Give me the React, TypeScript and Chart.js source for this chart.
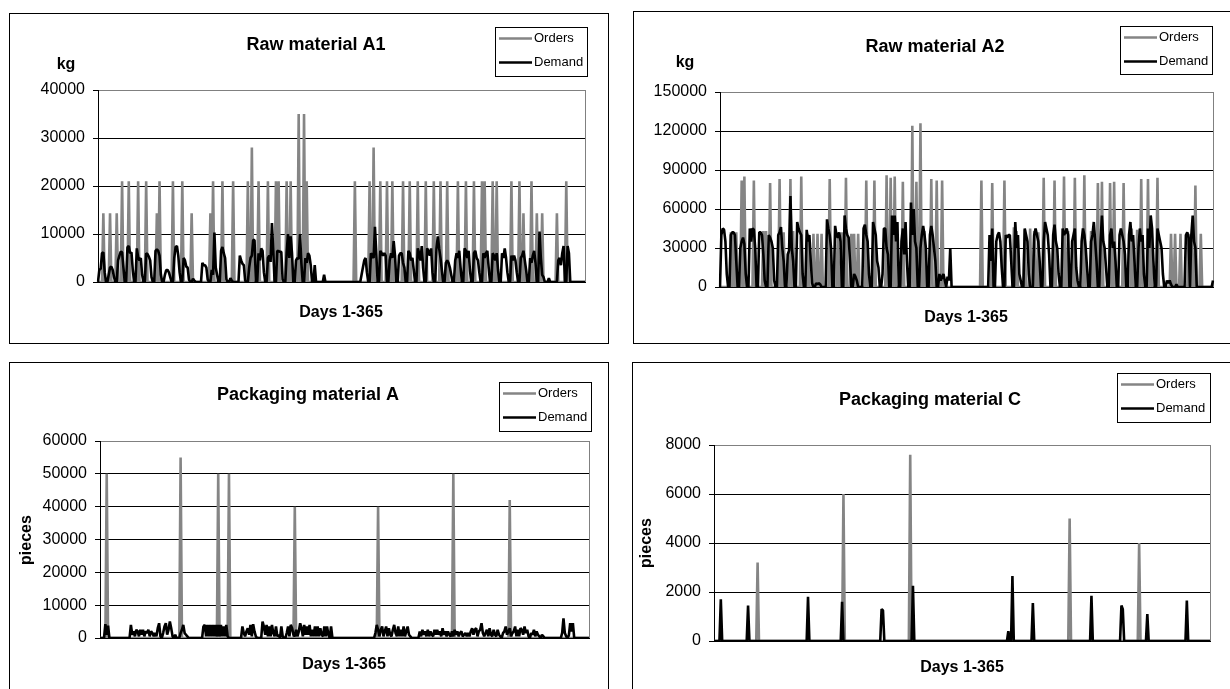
import React, { useEffect, useRef } from "react";
import { Chart, registerables } from "chart.js";

Chart.register(...registerables);

const FONT = '"Liberation Sans", Arial, Helvetica, sans-serif';
const ORDERS_COLOR = "#858585";
const DEMAND_COLOR = "#000000";
const X_AXIS_TITLE = "Days 1-365";
const LEGEND_LABELS = ["Orders", "Demand"];

const DAY_COUNT = 365;
const dayLabels: string[] = Array.from({ length: DAY_COUNT }, (_, i) => String(i + 1));

// ---------- Raw material A1 (kg) ----------
const ticksA1 = [0, 10000, 20000, 30000, 40000];
const ordersA1: [number, number][] = [
  [5, 14300], [10, 14300], [15, 14300], [19, 21000], [24, 21000], [31, 21000], [37, 21000],
  [45, 14300], [47, 21000], [57, 21000], [64, 21000], [71, 14300], [85, 14300], [87, 21000],
  [94, 21000], [102, 21000], [113, 21000], [116, 28000], [121, 21000], [128, 21000], [134, 21000],
  [136, 21000], [142, 21000], [145, 21000], [151, 35000], [155, 35000], [157, 21000], [193, 21000],
  [204, 21000], [207, 28000], [212, 21000], [217, 21000], [221, 21000], [229, 21000], [234, 21000],
  [240, 21000], [246, 21000], [252, 21000], [257, 21000], [262, 21000], [270, 21000], [276, 21000],
  [282, 21000], [288, 21000], [290, 21000], [296, 21000], [299, 21000], [310, 21000], [316, 21000],
  [319, 14300], [325, 21000], [329, 14300], [333, 14300], [344, 14300], [351, 21000],
];
const demandA1: number[] = [
  0, 2500, 2800, 6000, 6200, 2000, 0,
  0, 1500, 3000, 3200, 2500, 1000, 0,
  0, 4500, 5500, 6300, 6200, 3000, 0,
  0, 7200, 7500, 6000, 6200, 2500, 0,
  0, 7000, 5200, 4500, 5000, 1500, 0,
  0, 6000, 5800, 5300, 4500, 1000, 0,
  0, 6500, 6800, 6500, 5500, 1500, 0,
  0, 1500, 2500, 2500, 2000, 1000, 0,
  0, 5000, 7300, 7500, 5500, 2000, 0,
  0, 5000, 4500, 3200, 3000, 500, 0,
  0, 700, 300, 0, 0, 0, 0,
  0, 4000, 3500, 3500, 3000, 500, 0,
  0, 2500, 1500, 10300, 3000, 1500, 0,
  0, 6500, 7300, 6000, 5000, 500, 0,
  0, 800, 300, 0, 0, 0, 0,
  0, 5500, 4500, 3800, 3500, 300, 0,
  0, 3000, 5000, 5500, 8800, 8700, 0,
  0, 6000, 4500, 7000, 6500, 2000, 0,
  0, 5000, 5500, 4200, 12300, 6500, 0,
  0, 6500, 6400, 6300, 6300, 500, 0,
  0, 6000, 10000, 5000, 9500, 6000, 0,
  0, 4500, 5000, 4800, 10000, 4000, 0,
  0, 5000, 4000, 6000, 5500, 3500, 0,
  0, 3500, 0, 0, 0, 0, 0,
  0, 1500, 0, 0, 0, 0, 0,
  0, 0, 0, 0, 0, 0, 0,
  0, 0, 0, 0, 0, 0, 0,
  0, 0, 0, 0, 0, 0, 0,
  0, 1500, 3000, 4500, 5000, 2000, 0,
  0, 6000, 5500, 5000, 11500, 6000, 0,
  0, 6500, 6000, 5500, 6000, 5500, 0,
  0, 4500, 6000, 5000, 8500, 5500, 0,
  0, 5500, 6000, 6000, 4000, 3000, 0,
  0, 6500, 6000, 4500, 5000, 2500, 0,
  0, 7000, 6000, 4500, 7500, 3000, 0,
  0, 7000, 6500, 5500, 7000, 2000, 0,
  0, 7000, 9500, 7000, 5000, 2500, 0,
  0, 4000, 4500, 4000, 3000, 1500, 0,
  0, 4500, 6000, 5000, 6500, 3000, 0,
  0, 7000, 6500, 5000, 6500, 2500, 0,
  0, 6000, 6500, 5000, 4500, 2000, 0,
  0, 6000, 5000, 6000, 6500, 3000, 0,
  0, 6000, 5500, 4500, 6000, 2500, 0,
  0, 6000, 5000, 7000, 5000, 2000, 0,
  0, 5500, 4500, 5500, 4500, 2000, 0,
  0, 5000, 5500, 6500, 4500, 2500, 0,
  0, 5000, 4000, 5500, 6500, 4000, 0,
  0, 10500, 5000, 1500, 1000, 0, 0,
  0, 800, 0, 0, 0, 0, 0,
  0, 4500, 5000, 3500, 6000, 7500, 0,
  0, 7500, 6000, 0, 0, 0, 0,
  0, 0, 0, 0, 0, 0, 0,
  0,
];

// ---------- Raw material A2 (kg) ----------
const ticksA2 = [0, 30000, 60000, 90000, 120000, 150000];
const ordersA2: [number, number][] = [
  [9, 42000], [11, 42000], [13, 42000], [17, 82000], [19, 85000], [26, 82000], [33, 43000],
  [35, 43000], [38, 80000], [45, 83000], [48, 42000], [53, 83000], [55, 43000], [61, 85000],
  [66, 41000], [70, 41000], [73, 41000], [76, 41000], [82, 83000], [88, 42000], [91, 42000],
  [94, 84000], [98, 41000], [100, 41000], [103, 41000], [109, 82000], [115, 82000], [124, 86000],
  [127, 84000], [130, 85000], [136, 81000], [143, 124000], [146, 81000], [149, 126000], [152, 43000],
  [157, 83000], [161, 82000], [165, 82000], [194, 82000], [202, 80000], [211, 82000], [218, 46000],
  [220, 43000], [226, 44000], [230, 45000], [233, 43000], [236, 42000], [240, 84000], [248, 82000],
  [255, 85000], [258, 43000], [263, 84000], [270, 86000], [275, 43000], [277, 42000], [280, 80000],
  [283, 81000], [289, 80000], [292, 81000], [299, 80000], [305, 45000], [309, 44000], [312, 83000],
  [317, 83000], [319, 42000], [324, 84000], [334, 41000], [337, 41000], [341, 41000], [347, 41000],
  [349, 41000], [352, 78000], [356, 41000],
];
const demandA2: number[] = [
  0, 40000, 45000, 44000, 35000, 10000, 0,
  0, 40000, 42000, 42000, 40000, 20000, 0,
  0, 30000, 35000, 38000, 33000, 10000, 0,
  0, 45000, 35000, 45000, 44000, 30000, 0,
  0, 42000, 42000, 40000, 25000, 5000, 0,
  0, 40000, 38000, 35000, 30000, 5000, 0,
  0, 40000, 42000, 46000, 30000, 20000, 0,
  0, 25000, 28000, 70000, 30000, 20000, 0,
  0, 50000, 45000, 42000, 40000, 10000, 0,
  0, 44000, 35000, 40000, 20000, 3000, 0,
  0, 3000, 2000, 3000, 2000, 0, 0,
  0, 0, 52000, 45000, 40000, 30000, 0,
  0, 47000, 40000, 38000, 42000, 35000, 0,
  0, 55000, 45000, 40000, 38000, 20000, 0,
  0, 10000, 8000, 5000, 0, 0, 0,
  0, 45000, 48000, 40000, 35000, 10000, 0,
  0, 50000, 45000, 40000, 20000, 15000, 0,
  0, 10000, 45000, 45000, 30000, 25000, 0,
  0, 55000, 40000, 55000, 35000, 50000, 0,
  0, 35000, 45000, 25000, 50000, 20000, 0,
  0, 65000, 40000, 60000, 35000, 30000, 0,
  0, 30000, 40000, 47000, 40000, 30000, 0,
  0, 40000, 47000, 40000, 30000, 20000, 0,
  0, 10000, 5000, 8000, 10000, 5000, 0,
  8000, 5000, 30000, 0, 0, 0, 0,
  0, 0, 0, 0, 0, 0, 0,
  0, 0, 0, 0, 0, 0, 0,
  0, 0, 0, 0, 0, 0, 0,
  0, 0, 0, 40000, 20000, 45000, 0,
  0, 35000, 40000, 42000, 35000, 15000, 0,
  0, 40000, 38000, 40000, 40000, 20000, 0,
  0, 50000, 30000, 40000, 10000, 5000, 0,
  0, 45000, 40000, 35000, 10000, 0, 0,
  0, 40000, 45000, 40000, 35000, 20000, 0,
  0, 35000, 50000, 45000, 40000, 25000, 0,
  0, 40000, 48000, 35000, 30000, 10000, 0,
  0, 45000, 40000, 42000, 45000, 40000, 0,
  0, 35000, 40000, 45000, 15000, 5000, 0,
  0, 35000, 45000, 40000, 30000, 15000, 0,
  0, 35000, 40000, 50000, 35000, 20000, 0,
  0, 35000, 55000, 35000, 30000, 15000, 0,
  0, 40000, 45000, 30000, 35000, 20000, 0,
  0, 40000, 45000, 40000, 35000, 25000, 0,
  0, 40000, 50000, 35000, 40000, 20000, 0,
  0, 30000, 45000, 35000, 40000, 10000, 0,
  0, 45000, 30000, 55000, 45000, 20000, 0,
  0, 45000, 40000, 35000, 30000, 10000, 0,
  0, 5000, 3000, 5000, 2000, 0, 0,
  0, 2000, 0, 0, 0, 0, 0,
  0, 40000, 42000, 38000, 0, 40000, 55000,
  35000, 30000, 0, 0, 0, 0, 0,
  0, 0, 0, 0, 0, 0, 0,
  5000,
];

// ---------- Packaging material A (pieces) ----------
const ticksPA = [0, 10000, 20000, 30000, 40000, 50000, 60000];
const ordersPA: [number, number][] = [
  [6, 50000], [61, 55000], [89, 50000], [97, 50000], [146, 40000], [208, 40000], [264, 50000], [306, 42000],
];
const demandPA: number[] = [
  0, 0, 0, 0, 4200, 1000, 3800,
  0, 0, 0, 0, 0, 0, 0,
  0, 0, 0, 0, 0, 0, 0,
  0, 0, 4000, 1000, 2000, 500, 2500,
  2000, 500, 2500, 1000, 2500, 500, 2000,
  1500, 2500, 500, 2000, 1500, 500, 1500,
  500, 3000, 4500, 500, 0, 1500, 3500,
  4500, 1000, 2500, 5000, 3000, 500, 0,
  1000, 0, 0, 0, 1500, 2500, 4000,
  1500, 1000, 500, 0, 0, 0, 0,
  0, 0, 0, 0, 0, 0, 0,
  3500, 4000, 500, 4000, 500, 4000, 500,
  4000, 500, 4000, 500, 4000, 500, 4000,
  500, 3500, 500, 4000, 500, 0, 0,
  0, 0, 0, 0, 0, 0, 0,
  0, 3500, 1500, 500, 2000, 3000, 1000,
  4000, 500, 4200, 2000, 500, 0, 0,
  0, 0, 5000, 3500, 1000, 4000, 500,
  3500, 500, 4000, 1500, 500, 3500, 500,
  1000, 0, 3500, 500, 0, 0, 1500,
  3500, 500, 4000, 3000, 1000, 500, 2500,
  500, 2000, 4500, 3000, 500, 4000, 1000,
  3500, 1000, 4000, 500, 2500, 500, 3500,
  500, 3500, 500, 3000, 1000, 500, 3500,
  500, 3500, 1000, 0, 3500, 0, 0,
  0, 0, 0, 0, 0, 0, 0,
  0, 0, 0, 0, 0, 0, 0,
  0, 0, 0, 0, 0, 0, 0,
  0, 0, 0, 0, 0, 0, 0,
  0, 0, 1500, 4000, 2500, 500, 2500,
  3500, 500, 2000, 3500, 500, 3000, 1000,
  500, 2500, 4000, 1500, 500, 3500, 500,
  2500, 500, 3500, 500, 2000, 3500, 1000,
  500, 0, 0, 0, 0, 0, 0,
  2000, 500, 2500, 1000, 2000, 500, 2500,
  500, 2000, 1000, 500, 2500, 1000, 2500,
  1000, 2000, 500, 3000, 1000, 2000, 500,
  2000, 1000, 500, 2000, 500, 2500, 1000,
  2000, 500, 1500, 2000, 500, 1000, 1500,
  500, 1500, 500, 2000, 3000, 1000, 2500,
  3000, 500, 2000, 2500, 4500, 1500, 500,
  1500, 2500, 500, 3000, 1000, 500, 2500,
  1000, 500, 2500, 1000, 500, 0, 1500,
  2000, 3500, 1000, 2000, 3000, 500, 1500,
  2000, 3500, 500, 2500, 500, 3000, 2500,
  1000, 3500, 1500, 2500, 500, 0, 1500,
  1000, 2500, 500, 2000, 1000, 500, 0,
  1000, 500, 0, 0, 0, 0, 0,
  0, 0, 0, 0, 0, 0, 0,
  0, 1500, 6000, 1500, 500, 0, 800,
  4500, 2000, 4500, 0, 0, 0, 0,
  0, 0, 0, 0, 0, 0, 0,
  0,
];

// ---------- Packaging material C (pieces) ----------
const ticksPC = [0, 2000, 4000, 6000, 8000];
const ordersPC: [number, number][] = [
  [33, 3200], [96, 6000], [145, 7600], [262, 5000], [313, 4000],
];
const demandPC: [number, number][] = [
  [6, 1700], [26, 1450], [70, 1800], [95, 1600], [124, 1300], [125, 1250], [147, 2250],
  [217, 400], [220, 2650], [235, 1550], [278, 1850], [300, 1450], [301, 1300], [319, 1100], [348, 1650],
];

function expand(spikes: [number, number][]): number[] {
  const arr = new Array(DAY_COUNT).fill(0);
  spikes.forEach(([d, v]) => {
    arr[d - 1] = v;
  });
  return arr;
}

type Rect = { left: number; top: number; right: number; bottom: number };
type PanelCfg = {
  box: Rect;
  plot: Rect;
  title: string;
  titlePos: [number, number];
  unit: string;
  unitPos: [number, number];
  unitRotated: boolean;
  daysPos: [number, number];
  legend: { x: number; y: number; w: number; h: number };
  ticks: number[];
  orders: number[];
  demand: number[];
};

const panels: PanelCfg[] = [
  {
    box: { left: 9, top: 13, right: 609, bottom: 344 },
    plot: { left: 98, top: 90, right: 585, bottom: 282 },
    title: "Raw material A1",
    titlePos: [316, 45],
    unit: "kg",
    unitPos: [66, 65],
    unitRotated: false,
    daysPos: [341, 313],
    legend: { x: 495, y: 27, w: 92, h: 49 },
    ticks: ticksA1,
    orders: expand(ordersA1),
    demand: demandA1,
  },
  {
    box: { left: 633, top: 11, right: 1245, bottom: 344 },
    plot: { left: 720, top: 92, right: 1213, bottom: 287 },
    title: "Raw material A2",
    titlePos: [935, 47],
    unit: "kg",
    unitPos: [685, 63],
    unitRotated: false,
    daysPos: [966, 318],
    legend: { x: 1120, y: 26, w: 92, h: 48 },
    ticks: ticksA2,
    orders: expand(ordersA2),
    demand: demandA2,
  },
  {
    box: { left: 9, top: 362, right: 609, bottom: 700 },
    plot: { left: 100, top: 441, right: 589, bottom: 638 },
    title: "Packaging material A",
    titlePos: [308, 395],
    unit: "pieces",
    unitPos: [27, 540],
    unitRotated: true,
    daysPos: [344, 665],
    legend: { x: 499, y: 382, w: 92, h: 49 },
    ticks: ticksPA,
    orders: expand(ordersPA),
    demand: demandPA,
  },
  {
    box: { left: 632, top: 362, right: 1245, bottom: 700 },
    plot: { left: 714, top: 445, right: 1210, bottom: 641 },
    title: "Packaging material C",
    titlePos: [930, 400],
    unit: "pieces",
    unitPos: [647, 543],
    unitRotated: true,
    daysPos: [962, 668],
    legend: { x: 1117, y: 373, w: 93, h: 49 },
    ticks: ticksPC,
    orders: expand(ordersPC),
    demand: expand(demandPC),
  },
];

function decorPlugin(cfg: PanelCfg, ox: number, oy: number) {
  return {
    id: "decor",
    beforeDatasetsDraw(chart: any) {
      const { ctx, chartArea: a } = chart;
      ctx.save();
      ctx.strokeStyle = "#808080";
      ctx.lineWidth = 1;
      const x = Math.round(a.right) + 0.5;
      ctx.beginPath();
      ctx.moveTo(x, a.top);
      ctx.lineTo(x, a.bottom);
      ctx.stroke();
      ctx.restore();
    },
    afterDraw(chart: any) {
      const ctx = chart.ctx as CanvasRenderingContext2D;
      ctx.save();
      ctx.fillStyle = "#000";
      ctx.textAlign = "center";
      ctx.textBaseline = "middle";
      ctx.font = `bold 18px ${FONT}`;
      ctx.fillText(cfg.title, cfg.titlePos[0] - ox, cfg.titlePos[1] - oy);
      ctx.font = `bold 16px ${FONT}`;
      ctx.fillText(X_AXIS_TITLE, cfg.daysPos[0] - ox, cfg.daysPos[1] - oy);
      if (cfg.unitRotated) {
        ctx.save();
        ctx.translate(cfg.unitPos[0] - ox, cfg.unitPos[1] - oy);
        ctx.rotate(-Math.PI / 2);
        ctx.fillText(cfg.unit, 0, 0);
        ctx.restore();
      } else {
        ctx.fillText(cfg.unit, cfg.unitPos[0] - ox, cfg.unitPos[1] - oy);
      }
      // legend
      const L = cfg.legend;
      const lx = L.x - ox;
      const ly = L.y - oy;
      ctx.fillStyle = "#fff";
      ctx.fillRect(lx, ly, L.w, L.h);
      ctx.strokeStyle = "#000";
      ctx.lineWidth = 1;
      ctx.strokeRect(lx + 0.5, ly + 0.5, L.w, L.h);
      const colors = [ORDERS_COLOR, DEMAND_COLOR];
      const rowY = [11, 35];
      ctx.font = `13px ${FONT}`;
      ctx.textAlign = "left";
      LEGEND_LABELS.forEach((label, i) => {
        const y = ly + rowY[i] + 0.5;
        ctx.strokeStyle = colors[i];
        ctx.lineWidth = 2.5;
        ctx.beginPath();
        ctx.moveTo(lx + 4, y);
        ctx.lineTo(lx + 37, y);
        ctx.stroke();
        ctx.fillStyle = "#000";
        ctx.fillText(label, lx + 39, y);
      });
      ctx.restore();
    },
  };
}

function Panel({ cfg }: { cfg: PanelCfg }) {
  const ref = useRef<HTMLCanvasElement | null>(null);
  const w = cfg.box.right - cfg.box.left - 2;
  const h = cfg.box.bottom - cfg.box.top - 2;
  const ox = cfg.box.left + 1;
  const oy = cfg.box.top + 1;

  useEffect(() => {
    if (!ref.current) return;
    const L = cfg.plot.left - ox;
    const T = cfg.plot.top - oy;
    const R = cfg.plot.right - ox;
    const B = cfg.plot.bottom - oy;
    const yMin = cfg.ticks[0];
    const yMax = cfg.ticks[cfg.ticks.length - 1];
    const chart = new Chart(ref.current, {
      type: "line",
      data: {
        labels: dayLabels,
        datasets: [
          {
            label: LEGEND_LABELS[0],
            data: cfg.orders,
            borderColor: ORDERS_COLOR,
            borderWidth: 2.6,
            pointRadius: 0,
            tension: 0,
            fill: false,
            borderJoinStyle: "bevel",
            order: 1,
          },
          {
            label: LEGEND_LABELS[1],
            data: cfg.demand,
            borderColor: DEMAND_COLOR,
            borderWidth: 2.6,
            pointRadius: 0,
            tension: 0,
            fill: false,
            borderJoinStyle: "bevel",
            order: 0,
          },
        ],
      },
      options: {
        responsive: false,
        animation: false,
        devicePixelRatio: 1,
        events: [],
        layout: { padding: { left: 0, top: T, right: w - R, bottom: h - B } },
        plugins: {
          legend: { display: false },
          title: { display: false },
          tooltip: { enabled: false },
        },
        scales: {
          x: {
            type: "category",
            grid: { display: false, drawTicks: false },
            ticks: { display: false },
            border: { display: true, color: "#000", width: 1 },
            afterFit: (s: any) => {
              s.height = 0;
            },
          },
          y: {
            min: yMin,
            max: yMax,
            afterFit: (s: any) => {
              s.width = L;
            },
            afterBuildTicks: (s: any) => {
              s.ticks = cfg.ticks.map((v) => ({ value: v }));
            },
            grid: {
              color: (c: any) => (c.tick && c.tick.value === yMax ? "#808080" : "#000"),
              tickColor: "#000",
              tickLength: 5,
              lineWidth: 1,
            },
            border: { display: true, color: "#000", width: 1 },
            ticks: {
              color: "#000",
              padding: 8,
              font: { family: FONT, size: 16 },
              callback: (v: any) => String(v),
            },
          },
        },
      },
      plugins: [decorPlugin(cfg, ox, oy)],
    } as any);
    return () => chart.destroy();
  }, []);

  return (
    <div
      style={{
        position: "absolute",
        left: cfg.box.left,
        top: cfg.box.top,
        width: w,
        height: h,
        border: "1px solid #000",
        background: "#fff",
      }}
    >
      <canvas ref={ref} width={w} height={h} style={{ position: "absolute", left: 0, top: 0 }} />
    </div>
  );
}

export default function App() {
  return (
    <div
      style={{
        position: "absolute",
        left: 0,
        top: 0,
        width: 1230,
        height: 689,
        overflow: "hidden",
        background: "#fff",
      }}
    >
      {panels.map((p, i) => (
        <Panel key={i} cfg={p} />
      ))}
    </div>
  );
}
